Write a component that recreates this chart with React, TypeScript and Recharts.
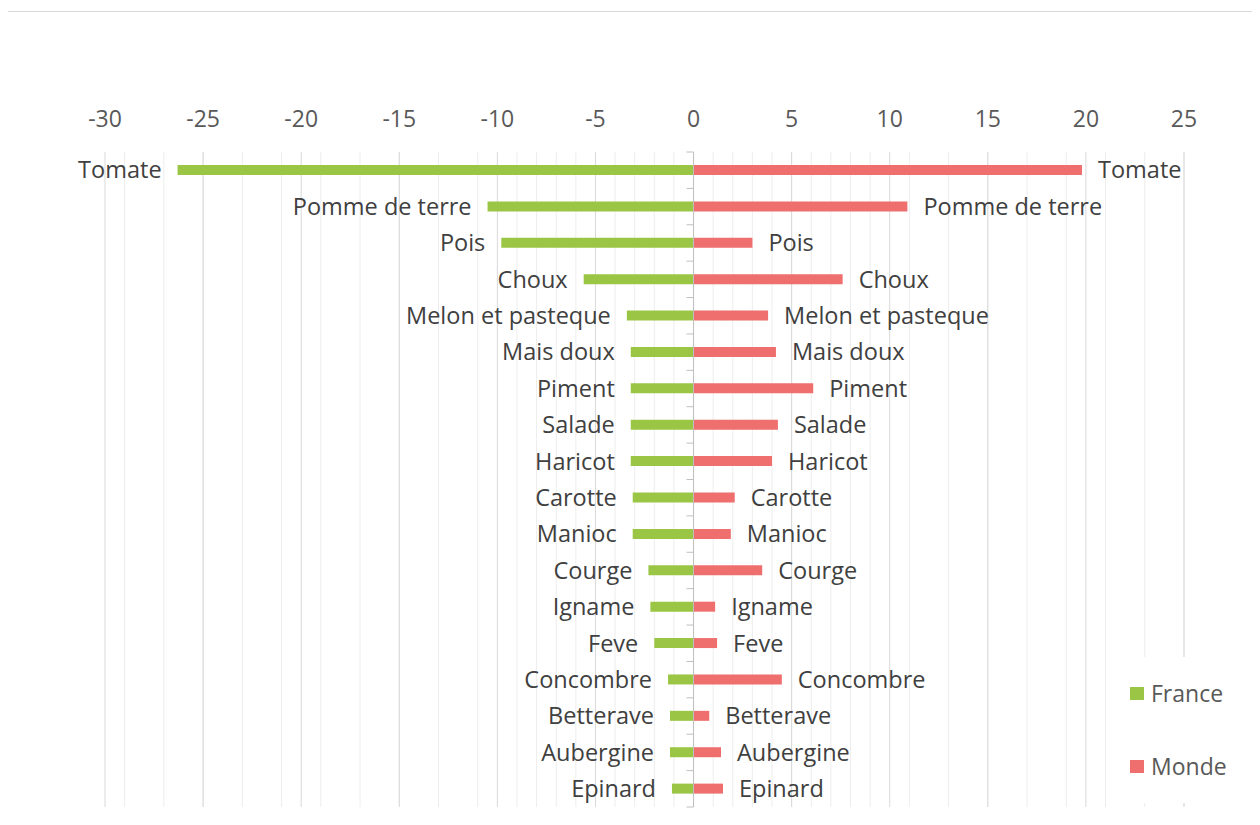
import React from 'react';
import { BarChart, Bar, XAxis, YAxis, CartesianGrid, ReferenceLine, LabelList } from 'recharts';

const categories = [
  'Tomate', 'Pomme de terre', 'Pois', 'Choux', 'Melon et pasteque', 'Mais doux', 'Piment', 'Salade', 'Haricot',
  'Carotte', 'Manioc', 'Courge', 'Igname', 'Feve', 'Concombre', 'Betterave', 'Aubergine', 'Epinard',
];
const france = [-26.3, -10.5, -9.8, -5.6, -3.4, -3.2, -3.2, -3.2, -3.2, -3.1, -3.1, -2.3, -2.2, -2.0, -1.3, -1.2, -1.2, -1.1];
const monde = [19.8, 10.9, 3.0, 7.6, 3.8, 4.2, 6.1, 4.3, 4.0, 2.1, 1.9, 3.5, 1.1, 1.2, 4.5, 0.8, 1.4, 1.5];
const majorTicks = [-30, -25, -20, -15, -10, -5, 0, 5, 10, 15, 20, 25];
const minorTicks = [
  -30, -29, -28, -27, -26, -25, -24, -23, -22, -21, -20, -19, -18, -17, -16, -15, -14, -13, -12, -11, -10, -9, -8, -7,
  -6, -5, -4, -3, -2, -1, 0, 1, 2, 3, 4, 5, 6, 7, 8, 9, 10, 11, 12, 13, 14, 15, 16, 17, 18, 19, 20, 21, 22, 23, 24, 25,
];

const data = categories.map((name, i) => ({ name, france: france[i], monde: monde[i] }));

const GREEN = '#9BC544';
const RED = '#EF6E6E';
const FONT = '"Open Sans", sans-serif';

function sideLabel(side: 'left' | 'right') {
  return (props: any) => {
    const { x, y, width, height, value } = props;
    const lo = Math.min(x, x + width);
    const hi = Math.max(x, x + width);
    const tx = side === 'left' ? lo - 16 : hi + 16;
    return (
      <text
        x={tx}
        y={y + height / 2}
        dy="0.36em"
        textAnchor={side === 'left' ? 'end' : 'start'}
        fill="#404040"
        fontSize={23.5}
        fontFamily={FONT}
      >
        {value}
      </text>
    );
  };
}

// zero axis with small category ticks on its left side
function ZeroAxis(props: any) {
  const { x1, y1, x2, y2 } = props;
  if (x1 == null) return null;
  const top = Math.min(y1, y2);
  const bottom = Math.max(y1, y2);
  const step = (bottom - top) / categories.length;
  return (
    <g stroke="#BFBFBF" strokeWidth={1}>
      <line x1={x1} y1={top} x2={x2} y2={bottom} />
      {Array.from({ length: categories.length + 1 }, (_, i) => (
        <line key={i} x1={x1 - 7} y1={top + i * step} x2={x1} y2={top + i * step} />
      ))}
    </g>
  );
}

export default function App() {
  return (
    <div
      style={{
        position: 'relative',
        marginTop: 3,
        marginLeft: -1,
        width: 1270,
        height: 830,
        border: '1px solid #D9D9D9',
        background: '#fff',
        fontFamily: FONT,
      }}
    >
      <style>{'body{overflow:hidden}'}</style>
      <BarChart
        width={1260}
        height={812}
        data={data}
        layout="vertical"
        stackOffset="sign"
        margin={{ top: 100, right: 84, bottom: 17, left: 97 }}
      >
        <CartesianGrid horizontal={false} verticalValues={minorTicks} stroke="#EDEDED" />
        <CartesianGrid horizontal={false} verticalValues={majorTicks} stroke="#D9D9D9" />
        <XAxis
          type="number"
          orientation="top"
          domain={[-30, 25]}
          ticks={majorTicks}
          height={40}
          axisLine={false}
          tickLine={false}
          tickSize={0}
          tickMargin={25}
          tick={{ fill: '#595959', fontSize: 23, fontFamily: FONT }}
        />
        <YAxis type="category" dataKey="name" hide />
        <Bar dataKey="france" name="France" stackId="s" fill={GREEN} barSize={10} isAnimationActive={false}>
          <LabelList dataKey="name" content={sideLabel('left')} />
        </Bar>
        <Bar dataKey="monde" name="Monde" stackId="s" fill={RED} barSize={10} isAnimationActive={false}>
          <LabelList dataKey="name" content={sideLabel('right')} />
        </Bar>
        <ReferenceLine x={0} shape={ZeroAxis} />
      </BarChart>
      <div
        style={{
          position: 'absolute',
          left: 1115,
          top: 645,
          width: 140,
          height: 146,
          background: '#fff',
          color: '#595959',
          fontSize: 23,
        }}
      >
        {[
          { label: 'France', color: GREEN, top: 23 },
          { label: 'Monde', color: RED, top: 96 },
        ].map((item) => (
          <div
            key={item.label}
            style={{ position: 'absolute', left: 7, top: item.top, display: 'flex', alignItems: 'center', lineHeight: '26px' }}
          >
            <span style={{ display: 'inline-block', width: 14, height: 13, background: item.color, marginRight: 7 }} />
            <span>{item.label}</span>
          </div>
        ))}
      </div>
    </div>
  );
}
